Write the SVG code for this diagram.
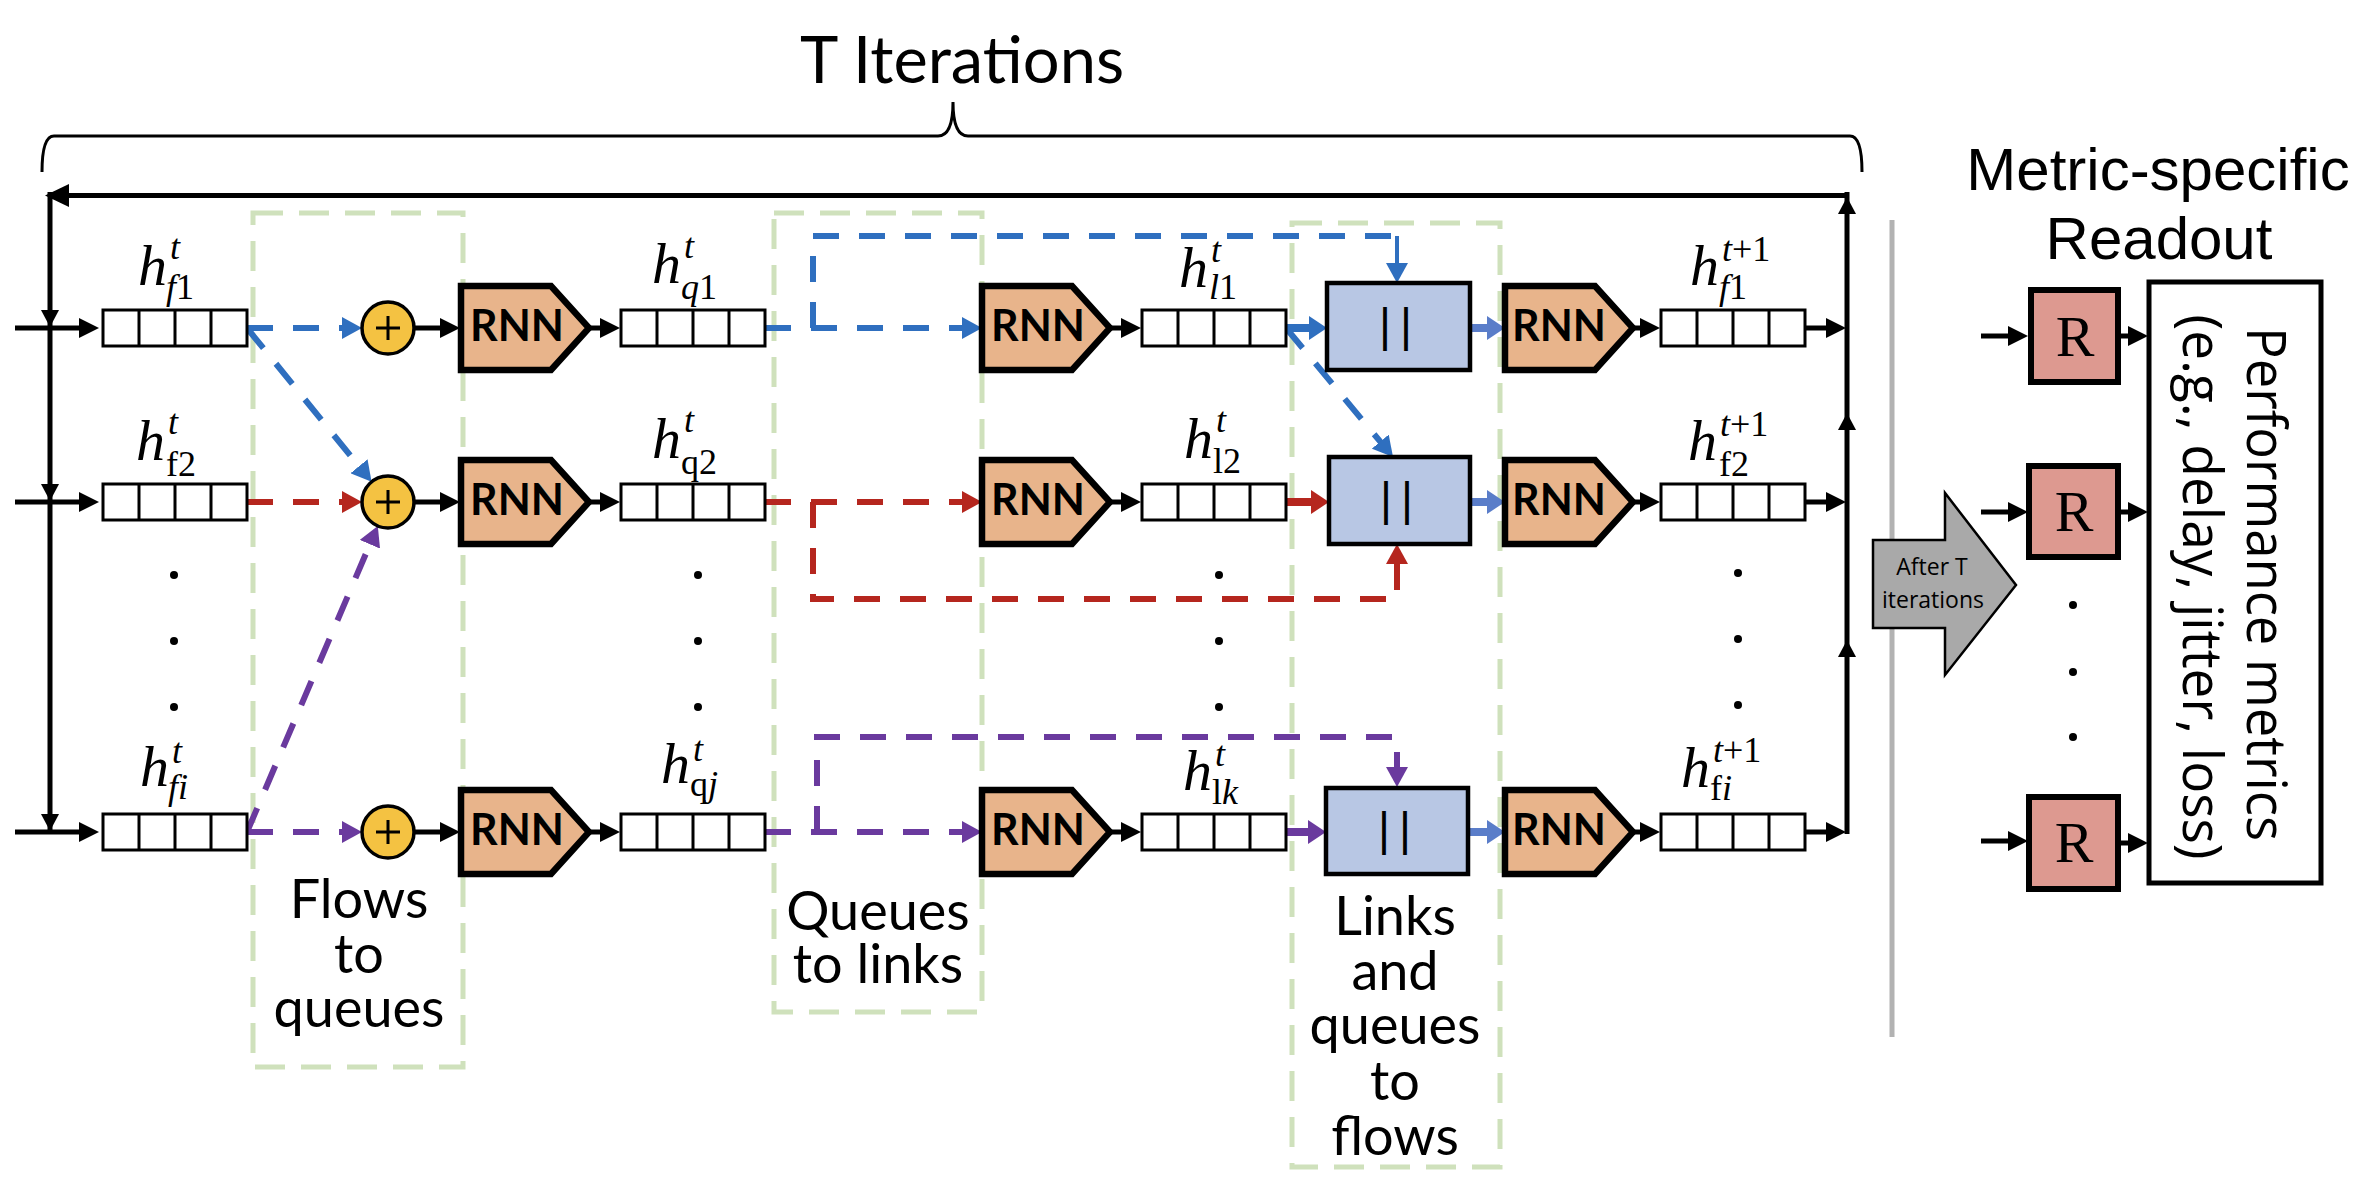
<svg xmlns="http://www.w3.org/2000/svg" width="2374" height="1198" viewBox="0 0 2374 1198">
<defs>
<style>
.qb{fill:#fff;stroke:#000;stroke-width:3}
.rnn{fill:#e8b48b;stroke:#000;stroke-width:6.5;stroke-linejoin:miter}
.rnnt{font-family:Lato,"Liberation Sans",sans-serif;font-weight:bold;font-size:43px;fill:#000}
.cat{fill:#b8c7e4;stroke:#000;stroke-width:4.5}
.catt{font-family:"Liberation Sans",sans-serif;font-size:46px;letter-spacing:9px}
.plus{fill:#f4c242;stroke:#000;stroke-width:3.5}
.pl{stroke:#000;stroke-width:3;fill:none}
.grp{fill:none;stroke:#cfe1bc;stroke-width:5;stroke-dasharray:30 16}
.lbl{font-family:Lato,"Liberation Sans",sans-serif;font-size:54px;text-anchor:middle}
.m{font-family:"Liberation Serif",serif;font-style:italic;font-size:58px}
.s{font-size:36px}
.u{font-style:normal}
.k{stroke:#000;stroke-width:5;fill:none}
.db{fill:none;stroke:#2f6fbf;stroke-width:6;stroke-dasharray:26 20}
.dr{fill:none;stroke:#b5261e;stroke-width:6;stroke-dasharray:26 20}
.dp{fill:none;stroke:#6a3a9e;stroke-width:6;stroke-dasharray:26 20}
.dot{fill:#000}
.rbox{fill:#dd9990;stroke:#000;stroke-width:6}
.rt{font-family:"Liberation Serif",serif;font-size:58px;text-anchor:middle}
</style>
<g id="qbox"><rect class="qb" x="0" y="0" width="144" height="36"/><path d="M36 0V36M72 0V36M108 0V36" stroke="#000" stroke-width="3"/></g>
<polygon id="rnnshape" class="rnn" points="0,-42 90,-42 128,0 90,42 0,42"/>
<marker id="mk" markerUnits="userSpaceOnUse" markerWidth="20" markerHeight="20" refX="4" refY="10" orient="auto"><path d="M0,0L20,10L0,20Z" fill="#000"/></marker>
<marker id="mb" markerUnits="userSpaceOnUse" markerWidth="20" markerHeight="22" refX="4" refY="11" orient="auto"><path d="M0,0L20,11L0,22Z" fill="#2f6fbf"/></marker>
<marker id="mr" markerUnits="userSpaceOnUse" markerWidth="20" markerHeight="22" refX="4" refY="11" orient="auto"><path d="M0,0L20,11L0,22Z" fill="#b5261e"/></marker>
<marker id="mp" markerUnits="userSpaceOnUse" markerWidth="20" markerHeight="22" refX="4" refY="11" orient="auto"><path d="M0,0L20,11L0,22Z" fill="#6a3a9e"/></marker>
<marker id="bb" markerUnits="userSpaceOnUse" markerWidth="18" markerHeight="24" refX="4" refY="12" orient="auto"><path d="M0,0L18,12L0,24Z" fill="#2f6fbf"/></marker>
<marker id="br" markerUnits="userSpaceOnUse" markerWidth="18" markerHeight="24" refX="4" refY="12" orient="auto"><path d="M0,0L18,12L0,24Z" fill="#b5261e"/></marker>
<marker id="bp" markerUnits="userSpaceOnUse" markerWidth="18" markerHeight="24" refX="4" refY="12" orient="auto"><path d="M0,0L18,12L0,24Z" fill="#6a3a9e"/></marker>
<marker id="bl" markerUnits="userSpaceOnUse" markerWidth="18" markerHeight="24" refX="4" refY="12" orient="auto"><path d="M0,0L18,12L0,24Z" fill="#5a7dc9"/></marker>
</defs>
<rect width="2374" height="1198" fill="#fff"/>

<g id="title">
<text x="962" y="83" font-family="Lato, 'Liberation Sans', sans-serif" font-size="65" text-anchor="middle">T Iterations</text>
<path d="M42 172Q42 136 54 136H938Q953 136 953 102Q953 136 968 136H1850Q1862 136 1862 172" fill="none" stroke="#000" stroke-width="3"/>
</g>

<g id="groups">
<rect class="grp" x="253" y="213" width="210" height="854"/>
<rect class="grp" x="774" y="213" width="208" height="799"/>
<rect class="grp" x="1292" y="223" width="208" height="944"/>
<text class="lbl"><tspan x="359" y="918">Flows</tspan><tspan x="359" y="973">to</tspan><tspan x="359" y="1027">queues</tspan></text>
<text class="lbl"><tspan x="878" y="930">Queues</tspan><tspan x="878" y="983">to links</tspan></text>
<text class="lbl"><tspan x="1395" y="935">Links</tspan><tspan x="1395" y="990">and</tspan><tspan x="1395" y="1044">queues</tspan><tspan x="1395" y="1100">to</tspan><tspan x="1395" y="1155">flows</tspan></text>
</g>

<g id="connectors">
<path class="k" d="M1849 195.5H66" stroke-width="7"/>
<polygon points="45,195.5 69,184 69,207"/>
<path class="k" d="M50 192V832"/>
<polygon points="41,310 59,310 50,327"/>
<polygon points="41,484 59,484 50,501"/>
<polygon points="41,814 59,814 50,831"/>
<path class="k" d="M15 328H83" marker-end="url(#mk)"/>
<path class="k" d="M15 502H83" marker-end="url(#mk)"/>
<path class="k" d="M15 832H83" marker-end="url(#mk)"/>
<path class="k" d="M1847 834V192"/>
<polygon points="1847,197 1838,214 1856,214"/>
<polygon points="1847,413 1838,430 1856,430"/>
<polygon points="1847,640 1838,657 1856,657"/>
<path class="k" d="M1805 328H1830" marker-end="url(#mk)"/>
<path class="k" d="M1805 502H1830" marker-end="url(#mk)"/>
<path class="k" d="M1805 832H1830" marker-end="url(#mk)"/>
<path class="k" stroke-width="4.5" d="M414 328H444" marker-end="url(#mk)"/>
<path class="k" stroke-width="4.5" d="M414 502H444" marker-end="url(#mk)"/>
<path class="k" stroke-width="4.5" d="M414 832H444" marker-end="url(#mk)"/>
<path class="k" d="M589 328H604" marker-end="url(#mk)"/>
<path class="k" d="M589 502H604" marker-end="url(#mk)"/>
<path class="k" d="M589 832H604" marker-end="url(#mk)"/>
<path class="k" d="M1110 328H1125" marker-end="url(#mk)"/>
<path class="k" d="M1110 502H1125" marker-end="url(#mk)"/>
<path class="k" d="M1110 832H1125" marker-end="url(#mk)"/>
<path class="k" d="M1632 328H1644" marker-end="url(#mk)"/>
<path class="k" d="M1632 502H1644" marker-end="url(#mk)"/>
<path class="k" d="M1632 832H1644" marker-end="url(#mk)"/>
<path class="k" d="M1981 336H2012" marker-end="url(#mk)"/>
<path class="k" d="M1981 512H2012" marker-end="url(#mk)"/>
<path class="k" d="M1981 841H2012" marker-end="url(#mk)"/>
<path class="k" d="M2118 336H2132" marker-end="url(#mk)"/>
<path class="k" d="M2118 512H2132" marker-end="url(#mk)"/>
<path class="k" d="M2118 843H2132" marker-end="url(#mk)"/>
<path class="db" d="M247 328H346" marker-end="url(#mb)"/>
<path class="db" d="M247 328L361.5 469.4" marker-end="url(#mb)"/>
<path class="db" d="M765 328H966" marker-end="url(#mb)"/>
<path class="db" d="M813 328V236H1397"/>
<path d="M1397 236V267" stroke="#2f6fbf" stroke-width="4" marker-end="url(#mb)"/>
<path class="db" d="M1286 328L1382.8 444.7" marker-end="url(#mb)"/>
<path class="dr" d="M247 502H346" marker-end="url(#mr)"/>
<path class="dr" d="M765 502H966" marker-end="url(#mr)"/>
<path class="dr" d="M813 502V599H1397V560" marker-end="url(#mr)"/>
<path class="dp" d="M247 832H346" marker-end="url(#mp)"/>
<path class="dp" d="M247 832L371.5 540.6" marker-end="url(#mp)"/>
<path class="dp" d="M765 832H966" marker-end="url(#mp)"/>
<path class="dp" d="M817 832V737H1397V771" marker-end="url(#mp)"/>
<path d="M1286 328H1313" stroke="#2f6fbf" stroke-width="8" marker-end="url(#bb)"/>
<path d="M1286 502H1315" stroke="#b5261e" stroke-width="8" marker-end="url(#br)"/>
<path d="M1286 832H1312" stroke="#6a3a9e" stroke-width="8" marker-end="url(#bp)"/>
<path d="M1470 328H1491" stroke="#5a7dc9" stroke-width="8" marker-end="url(#bl)"/>
<path d="M1470 502H1491" stroke="#5a7dc9" stroke-width="8" marker-end="url(#bl)"/>
<path d="M1470 832H1491" stroke="#5a7dc9" stroke-width="8" marker-end="url(#bl)"/>
</g>

<g id="flow-states">
<g id="hf1"><use href="#qbox" x="103" y="310"/><text class="m" x="138" y="285">h<tspan class="s" x="170" y="259">t</tspan><tspan class="s" x="166" y="299">f<tspan class="u">1</tspan></tspan></text></g>
<g id="hf2"><use href="#qbox" x="103" y="484"/><text class="m" x="136" y="460">h<tspan class="s" x="168" y="434">t</tspan><tspan class="s u" x="166" y="476">f2</tspan></text></g>
<g id="hfi"><use href="#qbox" x="103" y="814"/><text class="m" x="140" y="786">h<tspan class="s" x="172" y="763">t</tspan><tspan class="s" x="168" y="799">fi</tspan></text></g>
</g>

<g id="sums">
<g id="sum1"><circle class="plus" cx="388" cy="328" r="26"/><path class="pl" d="M376 328H400M388 316V340"/></g>
<g id="sum2"><circle class="plus" cx="388" cy="502" r="26"/><path class="pl" d="M376 502H400M388 490V514"/></g>
<g id="sum3"><circle class="plus" cx="388" cy="832" r="26"/><path class="pl" d="M376 832H400M388 820V844"/></g>
</g>

<g id="rnn-queues">
<g id="rnnq1"><use href="#rnnshape" x="461" y="328"/><text class="rnnt" x="470" y="341">RNN</text></g>
<g id="rnnq2"><use href="#rnnshape" x="461" y="502"/><text class="rnnt" x="470" y="515">RNN</text></g>
<g id="rnnq3"><use href="#rnnshape" x="461" y="832"/><text class="rnnt" x="470" y="845">RNN</text></g>
</g>

<g id="queue-states">
<g id="hq1"><use href="#qbox" x="621" y="310"/><text class="m" x="652" y="283">h<tspan class="s" x="684" y="258">t</tspan><tspan class="s" x="681" y="299">q<tspan class="u">1</tspan></tspan></text></g>
<g id="hq2"><use href="#qbox" x="621" y="484"/><text class="m" x="652" y="458">h<tspan class="s" x="684" y="432">t</tspan><tspan class="s u" x="681" y="474">q2</tspan></text></g>
<g id="hqj"><use href="#qbox" x="621" y="814"/><text class="m" x="661" y="783">h<tspan class="s" x="693" y="761">t</tspan><tspan class="s" x="690" y="796"><tspan class="u">q</tspan>j</tspan></text></g>
</g>

<g id="rnn-links">
<g id="rnnl1"><use href="#rnnshape" x="982" y="328"/><text class="rnnt" x="991" y="341">RNN</text></g>
<g id="rnnl2"><use href="#rnnshape" x="982" y="502"/><text class="rnnt" x="991" y="515">RNN</text></g>
<g id="rnnl3"><use href="#rnnshape" x="982" y="832"/><text class="rnnt" x="991" y="845">RNN</text></g>
</g>

<g id="link-states">
<g id="hl1"><use href="#qbox" x="1142" y="310"/><text class="m" x="1179" y="287">h<tspan class="s" x="1211" y="262">t</tspan><tspan class="s" x="1209" y="299">l<tspan class="u">1</tspan></tspan></text></g>
<g id="hl2"><use href="#qbox" x="1142" y="484"/><text class="m" x="1184" y="458">h<tspan class="s" x="1216" y="432">t</tspan><tspan class="s u" x="1213" y="473">l2</tspan></text></g>
<g id="hlk"><use href="#qbox" x="1142" y="814"/><text class="m" x="1183" y="790">h<tspan class="s" x="1215" y="766">t</tspan><tspan class="s" x="1212" y="804"><tspan class="u">l</tspan>k</tspan></text></g>
</g>

<g id="concats">
<g id="cat1"><rect class="cat" x="1327" y="283" width="143" height="87"/><text class="catt" x="1379" y="341">||</text></g>
<g id="cat2"><rect class="cat" x="1329" y="457" width="141" height="87"/><text class="catt" x="1380" y="515">||</text></g>
<g id="cat3"><rect class="cat" x="1326" y="788" width="142" height="86"/><text class="catt" x="1378" y="845">||</text></g>
</g>

<g id="rnn-flows">
<g id="rnnf1"><use href="#rnnshape" x="1505" y="328"/><text class="rnnt" x="1512" y="341">RNN</text></g>
<g id="rnnf2"><use href="#rnnshape" x="1505" y="502"/><text class="rnnt" x="1512" y="515">RNN</text></g>
<g id="rnnf3"><use href="#rnnshape" x="1505" y="832"/><text class="rnnt" x="1512" y="845">RNN</text></g>
</g>

<g id="new-flow-states">
<g id="hf1n"><use href="#qbox" x="1661" y="310"/><text class="m" x="1690" y="285">h<tspan class="s" x="1722" y="261">t<tspan class="u">+1</tspan></tspan><tspan class="s" x="1719" y="299">f<tspan class="u">1</tspan></tspan></text></g>
<g id="hf2n"><use href="#qbox" x="1661" y="484"/><text class="m" x="1688" y="460">h<tspan class="s" x="1720" y="436">t<tspan class="u">+1</tspan></tspan><tspan class="s u" x="1719" y="476">f2</tspan></text></g>
<g id="hfin"><use href="#qbox" x="1661" y="814"/><text class="m" x="1681" y="787">h<tspan class="s" x="1713" y="762">t<tspan class="u">+1</tspan></tspan><tspan class="s" x="1710" y="800"><tspan class="u">f</tspan>i</tspan></text></g>
</g>

<g id="ellipses">
<circle class="dot" cx="174" cy="575" r="4"/><circle class="dot" cx="174" cy="641" r="4"/><circle class="dot" cx="174" cy="707" r="4"/>
<circle class="dot" cx="698" cy="575" r="4"/><circle class="dot" cx="698" cy="641" r="4"/><circle class="dot" cx="698" cy="707" r="4"/>
<circle class="dot" cx="1219" cy="575" r="4"/><circle class="dot" cx="1219" cy="641" r="4"/><circle class="dot" cx="1219" cy="707" r="4"/>
<circle class="dot" cx="1738" cy="573" r="4"/><circle class="dot" cx="1738" cy="639" r="4"/><circle class="dot" cx="1738" cy="705" r="4"/>
<circle class="dot" cx="2073" cy="605" r="4"/><circle class="dot" cx="2073" cy="672" r="4"/><circle class="dot" cx="2073" cy="737" r="4"/>
</g>

<g id="separator"><path d="M1892 220V1037" stroke="#b2b2b2" stroke-width="5"/></g>

<g id="after-t">
<polygon points="1873,540 1945,540 1945,493 2016,585 1945,675 1945,628 1873,628" fill="#a9a9a9" stroke="#000" stroke-width="2.5"/>
<text font-family="'Open Sans', sans-serif" font-size="23" text-anchor="middle"><tspan x="1932" y="575">After T</tspan><tspan x="1933" y="608">iterations</tspan></text>
</g>

<g id="readout">
<text font-family="'Liberation Sans', sans-serif" font-size="60" text-anchor="middle"><tspan x="2158" y="190">Metric-specific</tspan><tspan x="2159" y="259">Readout</tspan></text>
<g id="r1"><rect class="rbox" x="2031" y="290" width="87" height="92"/><text class="rt" x="2075" y="356">R</text></g>
<g id="r2"><rect class="rbox" x="2029" y="466" width="89" height="91"/><text class="rt" x="2074" y="531">R</text></g>
<g id="r3"><rect class="rbox" x="2029" y="797" width="89" height="92"/><text class="rt" x="2074" y="862">R</text></g>
</g>

<g id="metrics">
<rect x="2149" y="282" width="172" height="601" fill="#fff" stroke="#000" stroke-width="5"/>
<text transform="translate(2247,584) rotate(90)" font-family="'Open Sans', sans-serif" font-size="54" text-anchor="middle" textLength="514" lengthAdjust="spacingAndGlyphs">Performance metrics</text>
<text transform="translate(2183,587) rotate(90)" font-family="'Open Sans', sans-serif" font-size="54" text-anchor="middle" textLength="545" lengthAdjust="spacingAndGlyphs">(e.g., delay, jitter, loss)</text>
</g>
</svg>
